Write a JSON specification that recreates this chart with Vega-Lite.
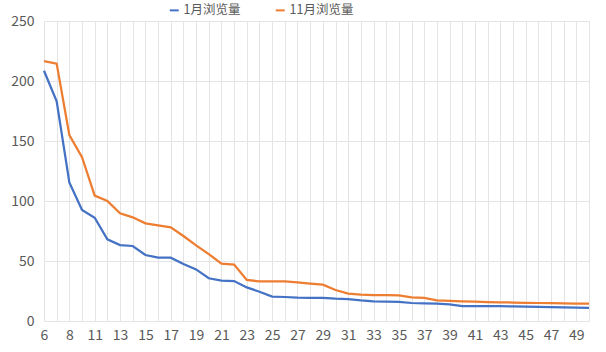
{
  "$schema": "https://vega.github.io/schema/vega-lite/v6.json",
  "width": 545,
  "height": 300,
  "autosize": {"type": "none"},
  "padding": {"left": 44, "top": 21, "right": 17, "bottom": 31},
  "background": "white",
  "config": {
    "view": {"stroke": null},
    "font": "Noto Sans CJK SC",
    "axis": {"labelFont": "Noto Sans CJK SC", "labelFontSize": 14, "labelColor": "#595959", "gridColor": "#E4E4E4", "gridWidth": 1, "domain": false, "ticks": false},
    "legend": {"labelFont": "Noto Sans CJK SC", "labelFontSize": 12.5, "labelColor": "#595959"}
  },
  "datasets": {
    "raw": [
      {"x": 6, "jan": 208.5, "nov": 216.5},
      {"x": 7, "jan": 183, "nov": 214.5},
      {"x": 8, "jan": 115.5, "nov": 155},
      {"x": 10, "jan": 92.5, "nov": 136.5},
      {"x": 11, "jan": 86, "nov": 104.5},
      {"x": 12, "jan": 68, "nov": 100},
      {"x": 13, "jan": 63.3, "nov": 89.7},
      {"x": 14, "jan": 62.5, "nov": 86.4},
      {"x": 15, "jan": 55, "nov": 81.4},
      {"x": 16, "jan": 52.8, "nov": 79.7},
      {"x": 17, "jan": 52.8, "nov": 78},
      {"x": 18, "jan": 47.5, "nov": 70.8},
      {"x": 19, "jan": 43, "nov": 63},
      {"x": 20, "jan": 35.6, "nov": 55.8},
      {"x": 21, "jan": 33.6, "nov": 47.8},
      {"x": 22, "jan": 33.3, "nov": 47},
      {"x": 23, "jan": 28, "nov": 34.2},
      {"x": 24, "jan": 24.4, "nov": 33},
      {"x": 25, "jan": 20.3, "nov": 33},
      {"x": 26, "jan": 20, "nov": 33},
      {"x": 27, "jan": 19.5, "nov": 32.2},
      {"x": 28, "jan": 19.3, "nov": 31.2},
      {"x": 29, "jan": 19.2, "nov": 30.3},
      {"x": 30, "jan": 18.6, "nov": 25.8},
      {"x": 31, "jan": 18.3, "nov": 22.8},
      {"x": 32, "jan": 17.2, "nov": 21.9},
      {"x": 33, "jan": 16.4, "nov": 21.6},
      {"x": 34, "jan": 16.1, "nov": 21.6},
      {"x": 35, "jan": 15.9, "nov": 21.4},
      {"x": 36, "jan": 15, "nov": 19.7},
      {"x": 37, "jan": 14.7, "nov": 19.2},
      {"x": 38, "jan": 14.4, "nov": 17.2},
      {"x": 39, "jan": 13.9, "nov": 16.7},
      {"x": 40, "jan": 12.4, "nov": 16.4},
      {"x": 41, "jan": 12.4, "nov": 16.1},
      {"x": 42, "jan": 12.3, "nov": 15.8},
      {"x": 43, "jan": 12.3, "nov": 15.6},
      {"x": 44, "jan": 12.1, "nov": 15.4},
      {"x": 45, "jan": 11.9, "nov": 15.2},
      {"x": 46, "jan": 11.7, "nov": 15.0},
      {"x": 47, "jan": 11.5, "nov": 14.8},
      {"x": 48, "jan": 11.3, "nov": 14.6},
      {"x": 49, "jan": 11.2, "nov": 14.5},
      {"x": 50, "jan": 11.0, "nov": 14.4}
    ]
  },
  "data": {"name": "raw"},
  "transform": [
    {"fold": ["jan", "nov"], "as": ["key", "value"]},
    {"lookup": "key", "from": {"data": {"values": [{"key": "jan", "series": "1月浏览量"}, {"key": "nov", "series": "11月浏览量"}]}, "key": "key", "fields": ["series"]}}
  ],
  "mark": {"type": "line", "strokeWidth": 2.25},
  "encoding": {
    "x": {
      "field": "x",
      "type": "ordinal",
      "scale": {"type": "point", "padding": 0},
      "axis": {
        "title": null,
        "grid": true,
        "labelAngle": 0,
        "labelPadding": 7,
        "labelExpr": "indexof([6,8,11,13,15,17,19,21,23,25,27,29,31,33,35,37,39,41,43,45,47,49], datum.value) >= 0 ? datum.label : ''"
      }
    },
    "y": {
      "field": "value",
      "type": "quantitative",
      "scale": {"domain": [0, 250], "nice": false},
      "axis": {"title": null, "values": [0, 50, 100, 150, 200, 250], "labelPadding": 10, "grid": true}
    },
    "color": {
      "field": "series",
      "type": "nominal",
      "scale": {"domain": ["1月浏览量", "11月浏览量"], "range": ["#4472C4", "#ED7D31"]},
      "legend": {
        "title": null,
        "orient": "none",
        "direction": "horizontal",
        "legendX": 124,
        "legendY": -17,
        "symbolType": "stroke",
        "symbolSize": 80,
        "symbolStrokeWidth": 2,
        "labelOffset": 3,
        "columnPadding": 30
      }
    }
  }
}
